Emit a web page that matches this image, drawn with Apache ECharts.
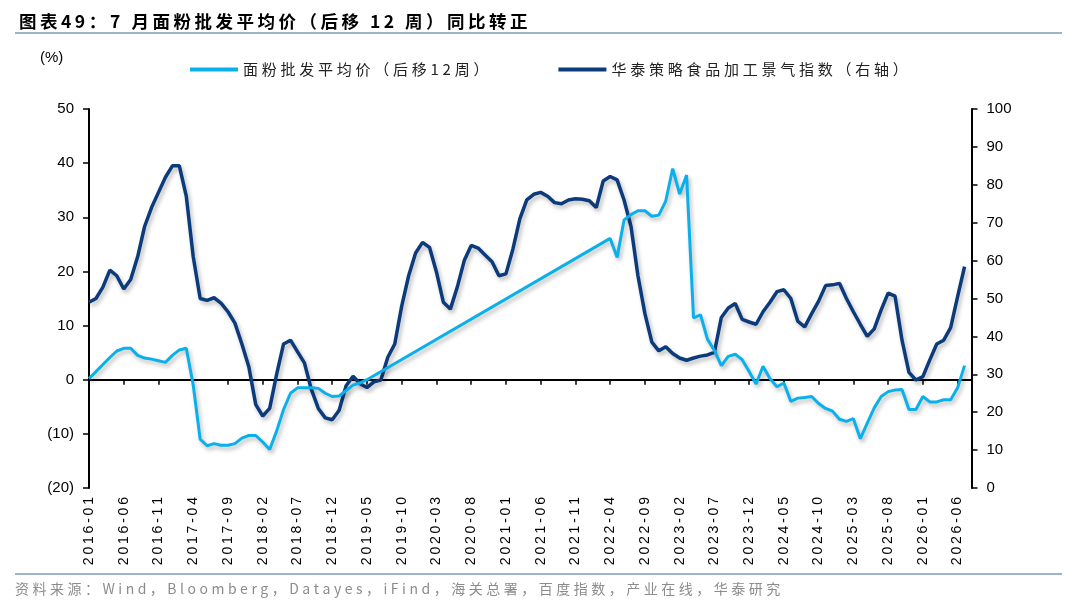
<!DOCTYPE html>
<html lang="zh">
<head>
<meta charset="UTF-8">
<title>面粉批发平均价</title>
<style>
  *{margin:0;padding:0;}
  html,body{width:1080px;height:608px;background:#fff;overflow:hidden;}
  #main{width:1080px;height:608px;}
</style>
</head>
<body>
<div id="main"></div>
<script src="https://cdn.jsdelivr.net/npm/echarts@6/dist/echarts.min.js"></script>
<script>
// 月份类目 2016-01 ~ 2026-08
var months = [];
for (var y = 2016; y <= 2026; y++) {
  for (var m = 1; m <= 12; m++) {
    if (y == 2026 && m > 8) break;
    months.push(y + '-' + (m < 10 ? '0' + m : m));
  }
}

// 面粉批发平均价（后移12周）同比，% 左轴
var flourYoy = [
  0.2, 1.5, 2.8, 4.1, 5.3, 5.8, 5.8, 4.5, 4, 3.8,
  3.5, 3.2, 4.5, 5.5, 5.8, -1, -11, -12.2, -11.8, -12.1,
  -12.1, -11.8, -10.8, -10.3, -10.3, -11.5, -12.9, -9.5, -5.5, -2.5,
  -1.5, -1.5, -1.5, -1.6, -2.5, -3.1, -3.0, -2, -1, -0.6,
  0, null, null, null, null, null, null, null, null, null,
  null, null, null, null, null, null, null, null, null, null,
  null, null, null, null, null, null, null, null, null, null,
  null, null, null, null, null, 26.1, 22.6, 29.5, 30.5, 31.2,
  31.2, 30.2, 30.4, 33, 39, 34.3, 37.8, 11.4, 12, 7.5,
  5.4, 2.6, 4.3, 4.7, 3.7, 1.5, -0.8, 2.5, 0.2, -1.3,
  -0.6, -4, -3.4, -3.3, -3.1, -4.4, -5.3, -5.8, -7.3, -7.7,
  -7.2, -10.9, -8, -5.2, -3.1, -2.2, -1.9, -1.8, -5.5, -5.5,
  -3.1, -4.1, -4.1, -3.7, -3.7, -1.5, 2.6
];

// 华泰策略食品加工景气指数，右轴
var foodIndex = [
  49, 50, 53, 57.5, 56, 52.5, 55, 61, 69, 74,
  78, 82, 85, 85, 77, 61, 50, 49.5, 50.2, 48.8,
  46.5, 43.5, 38, 32, 22, 19, 21, 30, 38, 39,
  36, 33, 26, 21, 18.5, 18, 20.5, 27, 29.5, 27.5,
  26.5, 28, 28.5, 34.5, 38, 48, 56, 62, 64.8, 63.5,
  57, 49, 47.2, 53, 60, 64, 63.3, 61.5, 59.7, 56,
  56.5, 63, 71, 76, 77.5, 78, 77, 75.3, 75, 76,
  76.3, 76.2, 75.8, 74, 81, 82.2, 81.3, 76, 69, 56,
  46, 38.5, 36.2, 37.3, 35.5, 34.3, 33.7, 34.3, 34.8, 35.1,
  35.8, 45, 47.5, 48.7, 44.5, 43.8, 43.2, 46.5, 49, 51.8,
  52.3, 50, 44, 42.5, 46, 49.3, 53.4, 53.6, 54, 50,
  46.5, 43.2, 40, 42, 47, 51.4, 50.6, 39, 30.5, 28.5,
  29.4, 33.8, 38, 39, 42.3, 50.5, 58.4
];

var seriesNames = ['面粉批发平均价（后移12周）', '华泰策略食品加工景气指数（右轴）'];
var leftTicks = { min: -20, max: 50, step: 10 };
var rightTicks = { min: 0, max: 100, step: 10 };

var FONT = "'Liberation Sans', 'Noto Sans CJK SC', sans-serif";
var CJK = "'Noto Sans CJK SC', 'Liberation Sans', sans-serif";

// 字间距
function spaced(s, sep) {
  return s.split('').join(sep);
}

var myChart = echarts.init(document.getElementById('main'));
var option = {
  backgroundColor: '#fff',
  animation: false,
  textStyle: { fontFamily: FONT },
  title: {
    text: spaced('图表49：', '\u2009') + ' ' + spaced('7 月面粉批发平均价（后移 12 周）同比转正', '\u2009'),
    left: 14,
    top: 8,
    textStyle: { fontSize: 17.5, fontWeight: 'bold', color: '#000', fontFamily: CJK }
  },
  legend: {
    left: 185,
    top: 57,
    icon: 'rect',
    itemWidth: 48,
    itemHeight: 4,
    itemGap: 70,
    data: seriesNames,
    formatter: function (name) { return spaced(name, '\u2005'); },
    textStyle: { fontSize: 15, color: '#222', fontFamily: CJK }
  },
  graphic: [
    { type: 'line', shape: { x1: 15, y1: 33, x2: 1062, y2: 33 }, style: { stroke: '#9db3cc', lineWidth: 2 } },
    { type: 'line', shape: { x1: 15, y1: 574, x2: 1062, y2: 574 }, style: { stroke: '#9db3cc', lineWidth: 2 } },
    { type: 'text', left: 40, top: 50, style: { text: '(%)', fontSize: 15, fill: '#000', fontFamily: FONT } },
    {
      type: 'text', left: 15, top: 582,
      style: {
        text: spaced('资料来源：Wind，Bloomberg，Datayes，iFind，海关总署，百度指数，产业在线，华泰研究', '\u2005'),
        fontSize: 14, fill: '#8c8c8c', fontFamily: CJK
      }
    }
  ],
  grid: { left: 89, right: 108.5, top: 109, bottom: 120, containLabel: false },
  xAxis: [
    {
      type: 'category',
      data: months,
      boundaryGap: false,
      axisLine: { onZero: true, onZeroAxisIndex: 0, lineStyle: { color: '#000', width: 2 } },
      axisTick: { show: true, interval: 4, length: 5, lineStyle: { color: '#000', width: 1.5 } },
      axisLabel: { show: false },
      splitLine: { show: false }
    },
    {
      type: 'category',
      data: months,
      boundaryGap: false,
      position: 'bottom',
      axisLine: { show: false, onZero: false },
      axisTick: { show: false },
      axisLabel: {
        interval: 4,
        rotate: 90,
        margin: 9,
        fontSize: 14,
        color: '#000',
        formatter: function (v) { return spaced(v, '\u2009'); }
      },
      splitLine: { show: false }
    }
  ],
  yAxis: [
    {
      type: 'value',
      min: leftTicks.min,
      max: leftTicks.max,
      interval: leftTicks.step,
      axisLine: { show: true, lineStyle: { color: '#000', width: 2 } },
      axisTick: { show: true, length: 6, lineStyle: { color: '#000', width: 1.5 } },
      axisLabel: {
        margin: 15, fontSize: 15, color: '#000',
        formatter: function (v) { return v < 0 ? '(' + (-v) + ')' : v; }
      },
      splitLine: { show: false }
    },
    {
      type: 'value',
      min: rightTicks.min,
      max: rightTicks.max,
      interval: rightTicks.step,
      position: 'right',
      axisLine: { show: true, lineStyle: { color: '#000', width: 2 } },
      axisTick: { show: true, length: 6, lineStyle: { color: '#000', width: 1.5 } },
      axisLabel: { margin: 15, fontSize: 15, color: '#000' },
      splitLine: { show: false }
    }
  ],
  series: [
    {
      name: seriesNames[0],
      type: 'line',
      xAxisIndex: 0,
      yAxisIndex: 0,
      data: flourYoy,
      connectNulls: true,
      showSymbol: false,
      symbol: 'none',
      itemStyle: { color: '#0ab0ec' },
      lineStyle: {
        color: '#0ab0ec', width: 3,
        shadowColor: 'rgba(0,0,0,0.28)', shadowBlur: 4, shadowOffsetX: 2, shadowOffsetY: 3
      },
      z: 3
    },
    {
      name: seriesNames[1],
      type: 'line',
      xAxisIndex: 0,
      yAxisIndex: 1,
      data: foodIndex,
      showSymbol: false,
      symbol: 'none',
      itemStyle: { color: '#0c3b7c' },
      lineStyle: {
        color: '#0c3b7c', width: 3.5,
        shadowColor: 'rgba(0,0,0,0.28)', shadowBlur: 4, shadowOffsetX: 2, shadowOffsetY: 3
      },
      z: 2
    }
  ]
};
myChart.setOption(option);
</script>
</body>
</html>
